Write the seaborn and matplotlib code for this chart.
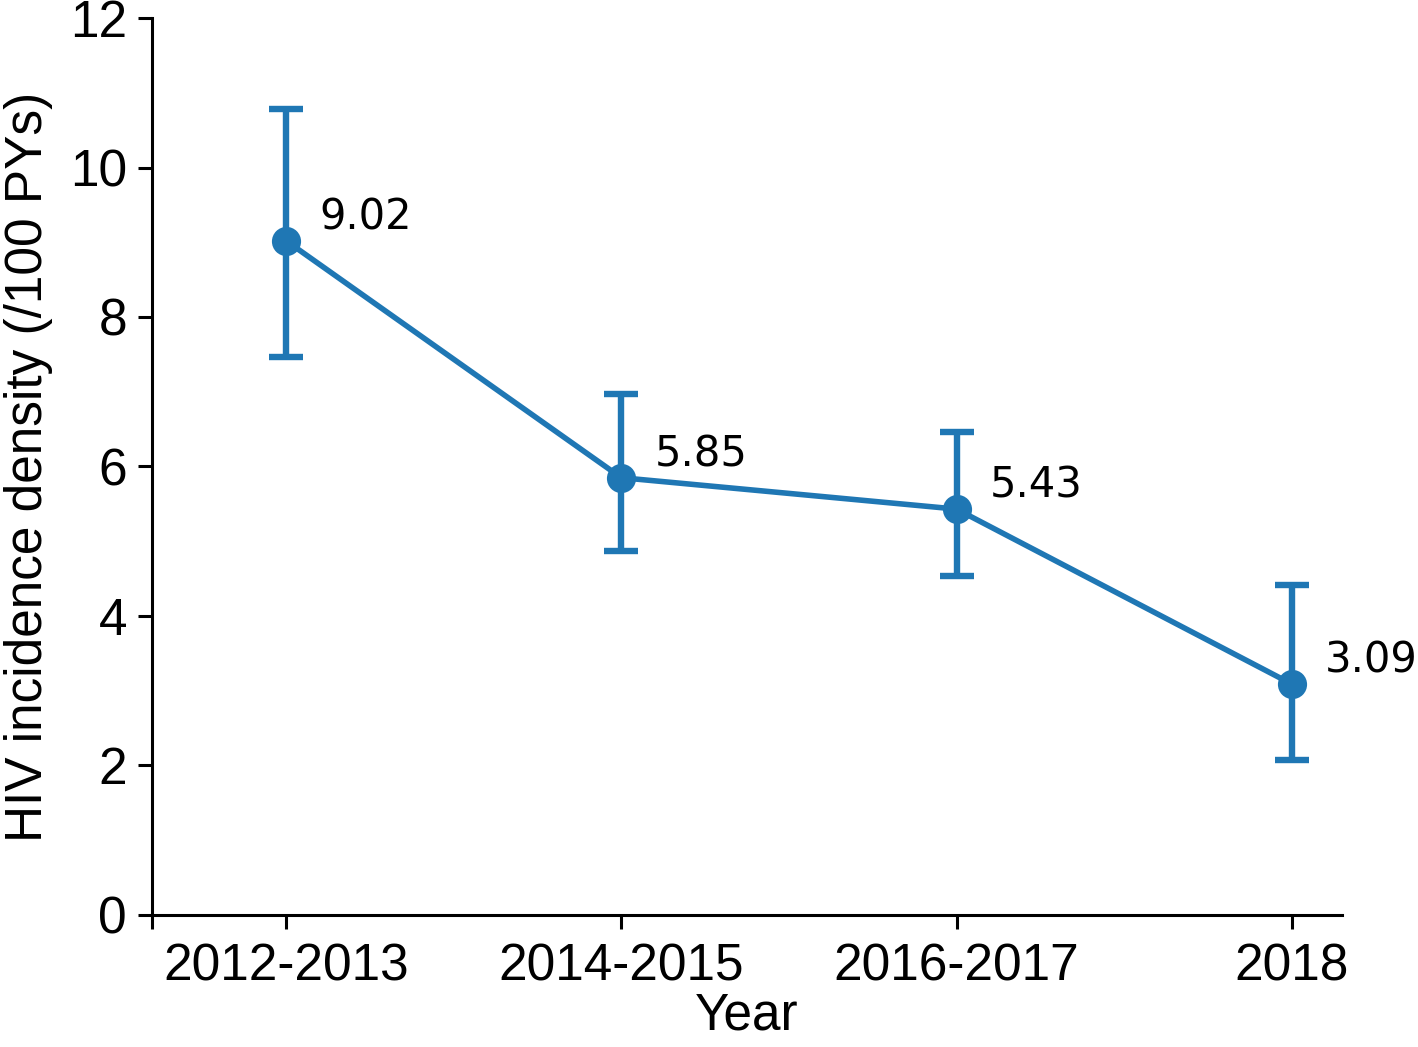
import numpy as np
import pandas as pd
import matplotlib
matplotlib.use('Agg')
import matplotlib.pyplot as plt
import seaborn as sns

# Data
years = ['2012-2013', '2014-2015', '2016-2017', '2018']
incidence = [9.02, 5.85, 5.43, 3.09]
ci_low = [7.47, 4.87, 4.53, 2.07]
ci_high = [10.78, 6.97, 6.46, 4.41]
y_ticks = [0, 2, 4, 6, 8, 10, 12]

BLUE = '#1f77b4'

sns.set_theme(style='ticks')
plt.rcParams['font.family'] = ['Liberation Sans', 'DejaVu Sans']
plt.rcParams['text.color'] = 'black'
plt.rcParams['axes.labelcolor'] = 'black'
plt.rcParams['xtick.color'] = 'black'
plt.rcParams['ytick.color'] = 'black'

df = pd.DataFrame({'year': years, 'incidence': incidence,
                   'low': ci_low, 'high': ci_high})

fig = plt.figure(figsize=(14.18, 10.47), dpi=100)
ax = fig.add_axes([0.1072, 0.1261, 0.8392, 0.8567])

sns.lineplot(data=df, x='year', y='incidence', ax=ax, color=BLUE,
             linewidth=4.0, marker='o', markersize=21, markeredgewidth=0,
             sort=False)

yerr = [df['incidence'] - df['low'], df['high'] - df['incidence']]
ax.errorbar(df['year'], df['incidence'], yerr=yerr, fmt='none',
            ecolor=BLUE, elinewidth=4.6, capsize=12, capthick=4.6)

# value labels
for yr, val in zip(df['year'], df['incidence']):
    ax.annotate(f'{val:.2f}', xy=(yr, val), xytext=(24, 17),
                textcoords='offset points', ha='left', va='center',
                fontsize=30, family='DejaVu Sans', color='black')

ax.set_xlim(-0.4, 3.15)
ax.set_ylim(0, 12)
ax.set_yticks(y_ticks)
ax.set_xticks([-0.4], minor=True)

ax.set_xlabel('Year', fontsize=37, labelpad=0)
ax.set_ylabel('HIV incidence density (/100 PYs)', fontsize=37, labelpad=12)

sns.despine(ax=ax)
for s in ['left', 'bottom']:
    ax.spines[s].set_linewidth(2.2)
    ax.spines[s].set_color('black')
ax.tick_params(axis='both', which='both', length=10, width=2.2,
               labelsize=37, color='black', labelcolor='black', pad=8)
ax.tick_params(axis='x', which='major', pad=10)

fig.savefig('out.png', dpi=100)
